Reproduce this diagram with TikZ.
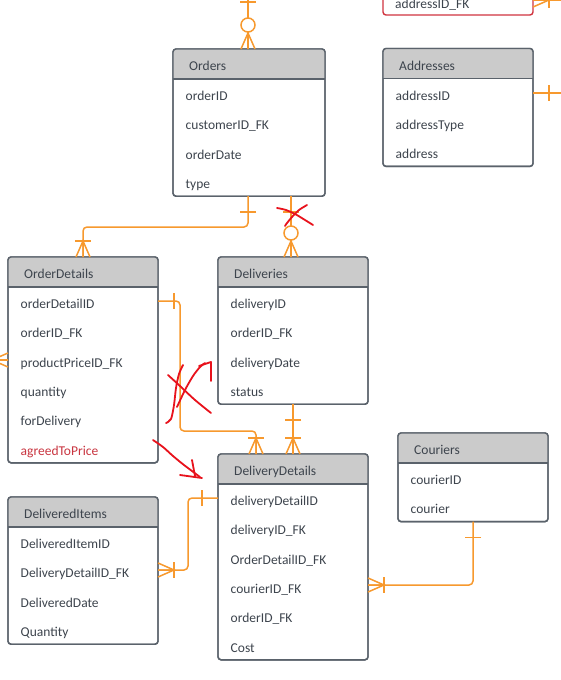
\documentclass[tikz,border=0pt]{standalone}
\usepackage{fontspec}
\setmainfont{Carlito}
\usetikzlibrary{calc}
\definecolor{ink}{HTML}{3D444D}
\definecolor{bordc}{HTML}{5A626B}
\definecolor{hdrc}{HTML}{CBCBCB}
\definecolor{conc}{HTML}{F7992E}
\definecolor{redtxt}{HTML}{C93540}
\definecolor{redink}{HTML}{E8121C}
\definecolor{redbord}{HTML}{D0343F}
\tikzset{
 tbl/.style={draw=bordc, line width=1.4pt, rounded corners=3pt, fill=white, inner sep=0pt, outer sep=0pt},
 bord/.style={draw=bordc, line width=1.4pt},
 hdrtext/.style={font=\fontsize{13.5}{16}\selectfont, text=ink, inner sep=0pt},
 rowtext/.style={font=\fontsize{13.5}{16}\selectfont, text=ink, inner sep=0pt},
 conn/.style={draw=conc, line width=1.5pt},
 scrib/.style={draw=redink, line width=1.8pt, line cap=round, line join=round},
 pics/one/.style={code={\draw[conn] (16,-8) -- (16,8);}},
 pics/many/.style={code={\draw[conn] (0,-7) -- (16,0) -- (0,7) (0,0) -- (16,0);}},
 pics/zero/.style={code={\draw[conn, fill=white] (24,0) circle (7pt);}},
}
\newcommand\ertable[6]{%
 \node[tbl, anchor=north west, minimum width=#4pt, minimum height={30pt+29.3pt*#5}] (#1) at (#2,#3) {};
 \begin{scope}
 \clip[rounded corners=3pt] (#1.north west) rectangle (#1.south east);
 \fill[hdrc] (#1.north west) rectangle ([yshift=-30pt]#1.north east);
 \end{scope}
 \draw[bord] ([yshift=-30pt]#1.north west) -- ([yshift=-30pt]#1.north east);
 \draw[bord, rounded corners=3pt] (#1.north west) rectangle (#1.south east);
 \node[hdrtext, anchor=base west] (#1-t) at ([xshift=16pt,yshift=-21.5pt]#1.north west) {#6};
}
\newcommand\errow[4][ink]{%
 \node[rowtext, text=#1, anchor=base west] (#2-#3) at ([xshift=12.5pt,yshift={-51.5pt-29.3pt*(#3-1)}]#2.north west) {#4};
}
\begin{document}
\begin{tikzpicture}[x=1pt,y=-1pt]
\useasboundingbox (0,0) rectangle (561,680);
\clip (0,0) rectangle (561,680);
\fill[white] (0,0) rectangle (561,680);

% partial table at top right
\node[draw=redbord, line width=1.4pt, rounded corners=3pt, fill=white, anchor=south west, minimum width=150pt, minimum height=60pt, inner sep=0pt, outer sep=0pt] (custbox) at (383,15) {};
\node[rowtext, anchor=base west] (custbox-r) at (395,9) {addressID\_FK};

\ertable{orders}{173}{49}{152}{4}{Orders}
\errow{orders}{1}{orderID}
\errow{orders}{2}{customerID\_FK}
\errow{orders}{3}{orderDate}
\errow{orders}{4}{type}

\ertable{addresses}{383}{48.5}{150}{3}{Addresses}
\errow{addresses}{1}{addressID}
\errow{addresses}{2}{addressType}
\errow{addresses}{3}{address}

\ertable{orderdetails}{8}{257}{150}{6}{OrderDetails}
\errow{orderdetails}{1}{orderDetailID}
\errow{orderdetails}{2}{orderID\_FK}
\errow{orderdetails}{3}{productPriceID\_FK}
\errow{orderdetails}{4}{quantity}
\errow{orderdetails}{5}{forDelivery}
\errow[redtxt]{orderdetails}{6}{agreedToPrice}

\ertable{deliveries}{218}{257}{150}{4}{Deliveries}
\errow{deliveries}{1}{deliveryID}
\errow{deliveries}{2}{orderID\_FK}
\errow{deliveries}{3}{deliveryDate}
\errow{deliveries}{4}{status}

\ertable{deliverydetails}{218}{454}{150}{6}{DeliveryDetails}
\errow{deliverydetails}{1}{deliveryDetailID}
\errow{deliverydetails}{2}{deliveryID\_FK}
\errow{deliverydetails}{3}{OrderDetailID\_FK}
\errow{deliverydetails}{4}{courierID\_FK}
\errow{deliverydetails}{5}{orderID\_FK}
\errow{deliverydetails}{6}{Cost}

\ertable{couriers}{398}{433}{150}{2}{Couriers}
\errow{couriers}{1}{courierID}
\errow{couriers}{2}{courier}

\ertable{delivereditems}{8}{497}{150}{4}{DeliveredItems}
\errow{delivereditems}{1}{DeliveredItemID}
\errow{delivereditems}{2}{DeliveryDetailID\_FK}
\errow{delivereditems}{3}{DeliveredDate}
\errow{delivereditems}{4}{Quantity}

% connectors
\coordinate (otop) at ($(orders.north west)+(75,0)$);
\coordinate (otopend) at ($(otop)+(0,-60)$);
\draw[conn] (otop) -- (otopend);
\path (otop) pic[rotate=90]{many} pic[rotate=90]{zero};
\draw[conn] ($(otop)+(-8,-47)$) -- ++(16,0);

\coordinate (o1) at ($(orders.south west)+(75,0)$);
\draw[conn, rounded corners=4pt] (o1) |- ($(orderdetails.north)+(0,-30)$) -- (orderdetails.north);
\path (o1) pic[rotate=-90]{one};
\path (orderdetails.north) pic[rotate=90]{many} pic[rotate=90]{one};

\coordinate (o2) at ($(orders.south west)+(118,0)$);
\coordinate (d0) at ($(deliveries.north west)+(73,0)$);
\draw[conn] (o2) -- (d0);
\path (o2) pic[rotate=-90]{one};
\path (d0) pic[rotate=90]{many} pic[rotate=90]{zero};

\coordinate (od1) at ($(orderdetails.north east)+(0,44)$);
\coordinate (dd0) at ($(deliverydetails.north west)+(38,0)$);
\draw[conn, rounded corners=4pt] (od1) -- ++(22,0) |- ($(dd0)+(0,-23)$) -- (dd0);
\path (od1) pic{one};
\path (dd0) pic[rotate=90]{many} pic[rotate=90]{one};

\draw[conn] (deliveries.south) -- (deliverydetails.north);
\path (deliveries.south) pic[rotate=-90]{one};
\path (deliverydetails.north) pic[rotate=90]{many} pic[rotate=90]{one};

\coordinate (dd1) at ($(deliverydetails.north west)+(0,44)$);
\coordinate (di1) at ($(delivereditems.north east)+(0,73)$);
\draw[conn, rounded corners=4pt] (dd1) -- ++(-30,0) |- (di1);
\path (dd1) pic[rotate=180]{one};
\path (di1) pic{many} pic{one};

\coordinate (dd2) at ($(deliverydetails.north east)+(0,131)$);
\draw[conn, rounded corners=4pt] (couriers.south) |- (dd2);
\path (couriers.south) pic[rotate=-90]{one};
\path (dd2) pic{many} pic{one};

\coordinate (a1) at ($(addresses.north east)+(0,44.5)$);
\draw[conn] (a1) -- ++(40,0);
\path (a1) pic{one};

\coordinate (od2) at ($(orderdetails.north west)+(0,103)$);
\draw[conn] (od2) -- ++(-20,0);
\path (od2) pic[rotate=180]{many};

\coordinate (c1) at ($(custbox.south east)+(0,-15)$);
\draw[conn] (c1) -- ++(40,0);
\path (c1) pic{many} pic{one};

% red hand-drawn marks
\draw[scrib] plot[smooth, tension=0.6] coordinates {(277,208) (286,210) (295,214) (305,220) (313,225)};
\draw[scrib] plot[smooth] coordinates {(307,205) (299,210) (292,217) (287,223) (285,226)};
\draw[scrib] plot[smooth] coordinates {(168,375) (180,386) (195,400) (211,413)};
\draw[scrib] plot[smooth] coordinates {(166,423) (171,419) (174,405) (176,388) (179,374) (183,365)};
\draw[scrib] plot[smooth] coordinates {(177,407) (185,390) (193,376) (200,367) (205,363)};
\draw[scrib] (199,366) -- (211,362) -- (211,381);
\draw[scrib] plot[smooth] coordinates {(153,440) (163,447) (173,456) (184,465) (200,477)};
\draw[scrib] (180,475) -- (202,478);
\draw[scrib] (192,460) -- (195,476);
\end{tikzpicture}
\end{document}
